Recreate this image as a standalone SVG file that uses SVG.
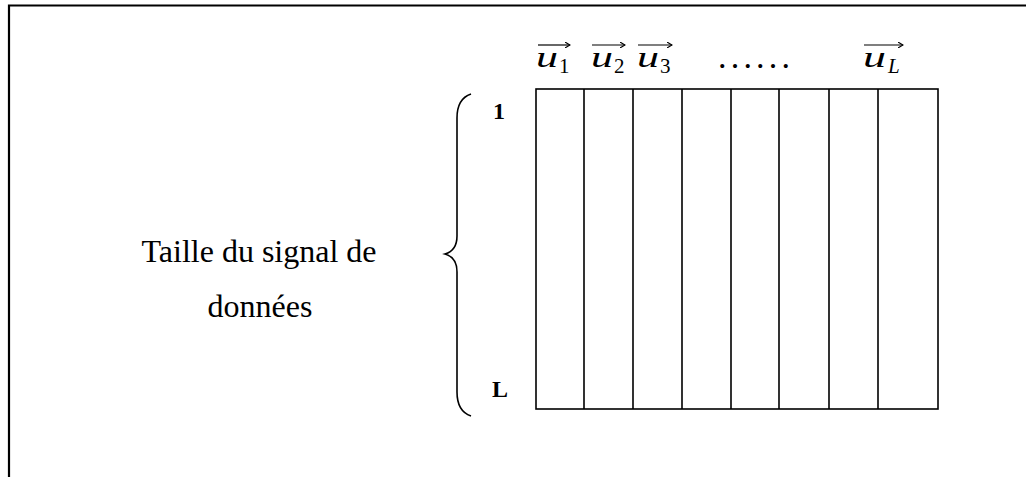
<svg xmlns="http://www.w3.org/2000/svg" width="1026" height="477" viewBox="0 0 1026 477">
<defs>
<style>
.frame{fill:none;stroke:#000;stroke-width:2.2}
.grid{fill:none;stroke:#000;stroke-width:1.6}
.brace{fill:none;stroke:#000;stroke-width:1.6}
.lbl{font-family:"Liberation Serif","Times New Roman",serif;font-size:32px;fill:#000}
.idx{font-family:"Liberation Serif","Times New Roman",serif;font-size:24px;font-weight:bold;fill:#000}
.vu{font-family:"Liberation Serif","Times New Roman",serif;font-style:italic;font-size:30px;fill:#000}
.dots{font-family:"Liberation Serif","Times New Roman",serif;font-size:34px;fill:#000}
.vs{font-family:"Liberation Serif","Times New Roman",serif;font-size:21px;fill:#000}
.vsi{font-family:"Liberation Serif","Times New Roman",serif;font-style:italic;font-size:21px;fill:#000}
.arr{fill:none;stroke:#000;stroke-width:1.2}
</style>
<marker id="ah" markerWidth="6" markerHeight="6" refX="5" refY="3" orient="auto" markerUnits="userSpaceOnUse">
<path d="M0,0 L5,3 L0,6" fill="none" stroke="#000" stroke-width="1.1"/>
</marker>
</defs>
<rect width="1026" height="477" fill="#fff"/>
<g id="frame">
<path class="frame" d="M9,477 V5.5 H1026"/>
</g>
<g id="label">
<text class="lbl" x="259" y="262" text-anchor="middle">Taille du signal de</text>
<text class="lbl" x="260" y="317" text-anchor="middle">données</text>
</g>
<g id="brace">
<path class="brace" d="M471,94 C462,97 457,104 457,118 V236 C457,246 452,252 445,254 C452,256 457,262 457,272 V392 C457,406 462,413 471,416"/>
</g>
<g id="indices">
<text class="idx" x="493" y="119">1</text>
<text class="idx" x="492" y="397">L</text>
</g>
<g id="matrix">
<rect class="grid" x="536" y="89" width="402" height="320"/>
<path class="grid" d="M584,89 V409 M633,89 V409 M682,89 V409 M731,89 V409 M779,89 V409 M829,89 V409 M878,89 V409"/>
</g>
<g id="vectors">
<g id="u1"><text class="vu" x="536" y="67" textLength="22" lengthAdjust="spacingAndGlyphs">u</text><text class="vs" x="559" y="73">1</text><line class="arr" x1="538" y1="45" x2="570" y2="45" marker-end="url(#ah)"/></g>
<g id="u2"><text class="vu" x="591" y="67" textLength="22" lengthAdjust="spacingAndGlyphs">u</text><text class="vs" x="614" y="73">2</text><line class="arr" x1="592" y1="45" x2="625" y2="45" marker-end="url(#ah)"/></g>
<g id="u3"><text class="vu" x="637" y="67" textLength="22" lengthAdjust="spacingAndGlyphs">u</text><text class="vs" x="660" y="73">3</text><line class="arr" x1="638" y1="45" x2="672" y2="45" marker-end="url(#ah)"/></g>
<g id="dots"><text class="dots" x="718" y="68" textLength="72" lengthAdjust="spacing">......</text></g>
<g id="uL"><text class="vu" x="863" y="67" textLength="23" lengthAdjust="spacingAndGlyphs">u</text><text class="vsi" x="888" y="73">L</text><line class="arr" x1="864" y1="45" x2="903" y2="45" marker-end="url(#ah)"/></g>
</g>
</svg>
